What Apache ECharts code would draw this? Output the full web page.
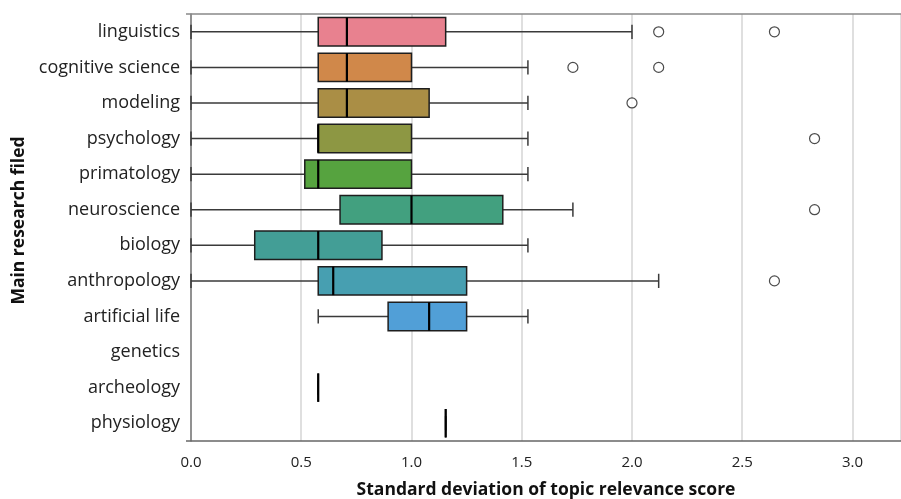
<!DOCTYPE html>
<html>
<head>
<meta charset="utf-8">
<script src="https://cdn.jsdelivr.net/npm/echarts@6/dist/echarts.min.js"></script>
<style>
html,body{margin:0;padding:0;background:#fff;}
#chart{width:901px;height:499px;}
</style>
</head>
<body>
<div id="chart"></div>
<script>
// Categories (top to bottom)
var categories = ['linguistics','cognitive science','modeling','psychology','primatology','neuroscience','biology','anthropology','artificial life','genetics','archeology','physiology'];
// Box stats: [low whisker, Q1, median, Q3, high whisker]; null = no data
var boxStats = [
  [0.0, 0.577, 0.707, 1.155, 2.0],
  [0.0, 0.577, 0.707, 1.0, 1.528],
  [0.0, 0.577, 0.707, 1.08, 1.528],
  [0.0, 0.577, 0.577, 1.0, 1.528],
  [0.0, 0.516, 0.577, 1.0, 1.528],
  [0.0, 0.676, 1.0, 1.414, 1.732],
  [0.0, 0.289, 0.577, 0.866, 1.528],
  [0.0, 0.577, 0.645, 1.25, 2.121],
  [0.577, 0.894, 1.08, 1.25, 1.528],
  null,
  [0.577, 0.577, 0.577, 0.577, 0.577],
  [1.155, 1.155, 1.155, 1.155, 1.155]
];
// Outliers: [value, category]
var outlierValues = [2.121, 2.646, 1.732, 2.121, 2.0, 2.828, 2.828, 2.646];
var outlierCats = ['linguistics','linguistics','cognitive science','cognitive science','modeling','psychology','neuroscience','anthropology'];
// Colours
var boxColors = ['#E8818F','#D0884A','#AA8E45','#8D9743','#56A33F','#42A07F','#439E96','#479FB1','#519FD7','#A47FD8','#C77BC9','#E07BA8'];

var boxData = [];
boxStats.forEach(function(s, i){
  if (s) boxData.push([i].concat(s));
});
var outlierData = outlierValues.map(function(v, i){ return [v, outlierCats[i]]; });

var chart = echarts.init(document.getElementById('chart'), null, {renderer:'canvas'});
var font = 'Open Sans';
chart.setOption({
  animation:false,
  backgroundColor:'#fff',
  grid:{left:191, top:14, right:0, bottom:58, containLabel:false, outerBoundsMode:'none'},
  xAxis:{
    type:'value', min:0, max:3.22, interval:0.5,
    name:'Standard deviation of topic relevance score',
    nameLocation:'middle', nameGap:40,
    nameTextStyle:{fontFamily:font, fontSize:17.5, fontWeight:'bold', color:'#111'},
    axisLine:{show:false},
    axisTick:{show:false},
    axisLabel:{fontFamily:font, fontSize:15, color:'#222', margin:14, showMaxLabel:false,
      formatter:function(v){ return Math.abs(v*2-Math.round(v*2))<1e-6 && v <= 3.0001 ? v.toFixed(1) : ''; }},
    splitLine:{show:true, lineStyle:{color:'#d4d4d4', width:1.5}}
  },
  yAxis:{
    type:'category', data:categories, inverse:true, offset:4,
    name:'Main research filed', nameLocation:'middle', nameRotate:90, nameGap:158,
    nameTextStyle:{fontFamily:font, fontSize:17.5, fontWeight:'bold', color:'#111', padding:[0,0,0,14]},
    axisLine:{show:true, lineStyle:{color:'#777', width:1.5}},
    axisTick:{show:false},
    axisLabel:{fontFamily:font, fontSize:18, color:'#222', margin:7},
    splitLine:{show:false}
  },
  graphic:[
    {type:'line', shape:{x1:186, y1:14, x2:901, y2:14}, style:{stroke:'#888', lineWidth:1.5}, z:10},
    {type:'line', shape:{x1:186, y1:441, x2:901, y2:441}, style:{stroke:'#666', lineWidth:1.5}, z:10}
  ],
  series:[
    {
      type:'custom',
      data:boxData,
      encode:{x:[1,2,3,4,5], y:0},
      renderItem:function(params, api){
        var ci = api.value(0);
        var lo = api.value(1), q1 = api.value(2), med = api.value(3), q3 = api.value(4), hi = api.value(5);
        var band = api.size([0,1])[1];
        var h = band*0.8;
        var cap = h*0.5;
        var pLo = api.coord([lo, ci]);
        var pQ1 = api.coord([q1, ci]);
        var pMed = api.coord([med, ci]);
        var pQ3 = api.coord([q3, ci]);
        var pHi = api.coord([hi, ci]);
        var y = pLo[1];
        var wStyle = {stroke:'#3a3a3a', lineWidth:1.5};
        var children = [
          {type:'line', shape:{x1:pLo[0], y1:y, x2:pQ1[0], y2:y}, style:wStyle},
          {type:'line', shape:{x1:pQ3[0], y1:y, x2:pHi[0], y2:y}, style:wStyle},
          {type:'line', shape:{x1:pLo[0], y1:y-cap/2, x2:pLo[0], y2:y+cap/2}, style:wStyle},
          {type:'line', shape:{x1:pHi[0], y1:y-cap/2, x2:pHi[0], y2:y+cap/2}, style:wStyle},
          {type:'rect', shape:{x:pQ1[0], y:y-h/2, width:pQ3[0]-pQ1[0], height:h},
            style:{fill:boxColors[ci], stroke:'#1e1e1e', lineWidth:1.5}},
          {type:'line', shape:{x1:pMed[0], y1:y-h/2, x2:pMed[0], y2:y+h/2}, style:{stroke:'#000', lineWidth:2.2}}
        ];
        return {type:'group', children:children};
      },
      z:5
    },
    {
      type:'scatter',
      data:outlierData,
      symbol:'circle', symbolSize:10,
      itemStyle:{color:'#fff', borderColor:'#1e1e1e', borderWidth:1.2},
      z:6
    }
  ]
});
</script>
</body>
</html>
